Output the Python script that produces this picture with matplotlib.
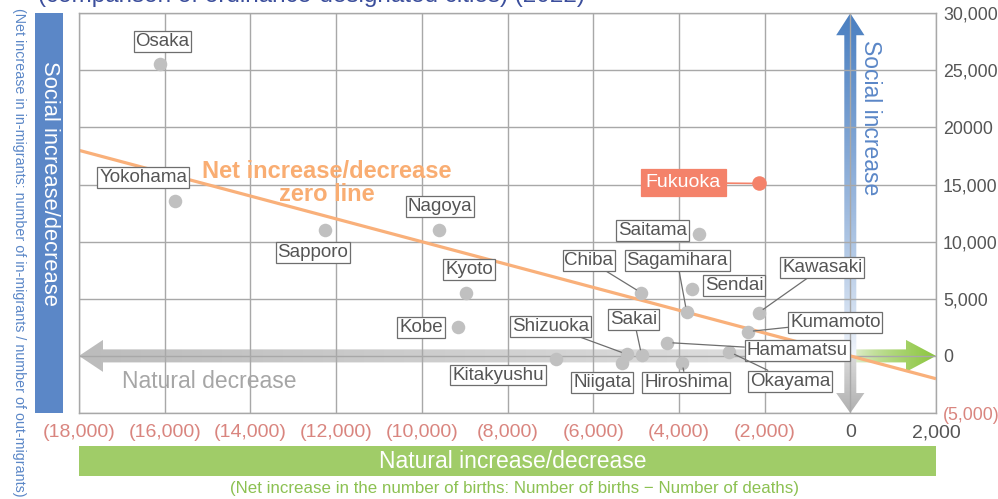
import numpy as np
import matplotlib
matplotlib.use("Agg")
import matplotlib.pyplot as plt
from matplotlib.patches import Polygon, Rectangle
from matplotlib.colors import to_rgba

plt.rcParams['font.family'] = ['Liberation Sans', 'DejaVu Sans']

# ---------------- data ----------------
cities = ["Osaka", "Yokohama", "Sapporo", "Nagoya", "Kyoto", "Kobe", "Kitakyushu",
          "Shizuoka", "Sakai", "Chiba", "Sagamihara", "Saitama", "Sendai", "Kawasaki",
          "Kumamoto", "Hamamatsu", "Okayama", "Hiroshima", "Niigata"]
natural = [-16100, -15750, -12250, -9600, -8970, -9150, -6870,
           -5220, -4870, -4880, -3820, -3520, -3700, -2140,
           -2390, -4270, -2820, -3930, -5320]
social = [25600, 13600, 11050, 11050, 5530, 2560, -230,
          150, 60, 5530, 3870, 10680, 5880, 3790,
          2130, 1170, 350, -580, -580]
fukuoka_name = "Fukuoka"
fukuoka_natural = -2140
fukuoka_social = 15100

xticks = [-18000, -16000, -14000, -12000, -10000, -8000, -6000, -4000, -2000, 0, 2000]
xticklabels = ["(18,000)", "(16,000)", "(14,000)", "(12,000)", "(10,000)", "(8,000)",
               "(6,000)", "(4,000)", "(2,000)", "0", "2,000"]
yticks = [-5000, 0, 5000, 10000, 15000, 20000, 25000, 30000]
yticklabels = ["(5,000)", "0", "5,000", "10,000", "15,000", "20000", "25,000", "30,000"]

# label layout (box centre positions in data units, and whether a leader line is drawn)
label_pos = {
    "Osaka": (-16050, 27530, False), "Yokohama": (-16500, 15600, False),
    "Sapporo": (-12540, 9050, False), "Nagoya": (-9580, 13060, False),
    "Kyoto": (-8900, 7570, False), "Kobe": (-10020, 2500, False),
    "Kitakyushu": (-8220, -1680, False), "Shizuoka": (-6990, 2590, True),
    "Sakai": (-5050, 3200, True), "Chiba": (-6100, 8350, True),
    "Sagamihara": (-4040, 8350, True), "Saitama": (-4620, 10970, False),
    "Sendai": (-2710, 6170, False), "Kawasaki": (-650, 7740, True),
    "Kumamoto": (-350, 2940, True), "Hamamatsu": (-1240, 500, True),
    "Okayama": (-1400, -2210, True), "Hiroshima": (-3830, -2300, True),
    "Niigata": (-5790, -2300, False),
}
fukuoka_label = (-3900, 15160)

W, H = 998, 499
fig = plt.figure(figsize=(W / 100, H / 100), dpi=100)
ax = fig.add_axes([79 / W, (H - 413) / H, (936 - 79) / W, (413 - 13.3) / H])

XMIN, XMAX, YMIN, YMAX = -18000, 2000, -5000, 30000


def grad_arrow(x0, y0, x1, y1, shaft_hw, head_hw, head_len, c0, c1, gamma=1.0):
    horizontal = (y0 == y1)
    if horizontal:
        d = np.sign(x1 - x0)
        hx = x1 - d * head_len
        pts = [(x0, y0 - shaft_hw), (hx, y0 - shaft_hw), (hx, y0 - head_hw), (x1, y0),
               (hx, y0 + head_hw), (hx, y0 + shaft_hw), (x0, y0 + shaft_hw)]
    else:
        d = np.sign(y1 - y0)
        hy = y1 - d * head_len
        pts = [(x0 - shaft_hw, y0), (x0 - shaft_hw, hy), (x0 - head_hw, hy), (x0, y1),
               (x0 + head_hw, hy), (x0 + shaft_hw, hy), (x0 + shaft_hw, y0)]
    pts = np.array(pts)
    patch = Polygon(pts, closed=True, fc='none', ec='none')
    ax.add_patch(patch)
    xmin, xmax = pts[:, 0].min(), pts[:, 0].max()
    ymin, ymax = pts[:, 1].min(), pts[:, 1].max()
    ca, cb = np.array(to_rgba(c0)), np.array(to_rgba(c1))
    n = 256
    if horizontal:
        xs = np.linspace(xmin, xmax, n)
        f = np.clip((xs - x0) / (x1 - x0), 0, 1) ** gamma
        cols = ca[None, :] + f[:, None] * (cb - ca)[None, :]
        img = np.repeat(cols[None, :, :], 2, axis=0)
    else:
        ys = np.linspace(ymin, ymax, n)
        f = np.clip((ys - y0) / (y1 - y0), 0, 1) ** gamma
        cols = ca[None, :] + f[:, None] * (cb - ca)[None, :]
        img = np.repeat(cols[:, None, :], 2, axis=1)
    im = ax.imshow(img, extent=[xmin, xmax, ymin, ymax], origin='lower', aspect='auto',
                   interpolation='bilinear', zorder=0.3)
    im.set_clip_path(patch)


# arrows
grad_arrow(0, 0, -18000, 0, 570, 1400, 560, '#e2e2e2', '#bcbcbc')
grad_arrow(0, 0, 2000, 0, 570, 1400, 700, '#f3f7ee', '#8cc63f', gamma=0.6)
grad_arrow(0, 0, 0, 30000, 140, 330, 1920, '#f4f7fc', '#4a7fc1', gamma=0.8)
grad_arrow(0, 0, 0, -5000, 140, 330, 1750, '#dadada', '#b0b0b0')

# grid / frame
ax.set_xlim(XMIN, XMAX)
ax.set_ylim(YMIN, YMAX)
ax.set_xticks(xticks)
ax.set_yticks(yticks)
ax.set_axisbelow(True)
ax.grid(True, color='#a8a8a8', lw=1.0, zorder=0.5)
for s in ax.spines.values():
    s.set_color('#a8a8a8')
    s.set_linewidth(1.0)
ax.tick_params(length=0)
ax.yaxis.tick_right()
ax.set_xticklabels(xticklabels, fontsize=14)
ax.set_yticklabels(yticklabels, fontsize=12.8)
ax.tick_params(axis='x', pad=8)
ax.tick_params(axis='y', pad=5)
neg_col, pos_col = '#d9857f', '#555555'
for lab, v in zip(ax.get_xticklabels(), xticks):
    lab.set_color(neg_col if v < 0 else pos_col)
for lab, v in zip(ax.get_yticklabels(), yticks):
    lab.set_color(neg_col if v < 0 else pos_col)

# zero line (natural + social = 0)
zx = np.array([XMIN, XMAX])
ax.plot(zx, -zx, color='#f9b07a', lw=2.3, zorder=2, solid_capstyle='butt')

# points
ax.scatter(natural, social, s=95, color='#c0c0c0', zorder=3, linewidths=0)
ax.scatter([fukuoka_natural], [fukuoka_social], s=110, color='#f4826a', zorder=3, linewidths=0)

for name, x, y in zip(cities, natural, social):
    lx, ly, line = label_pos[name]
    kw = dict(xy=(x, y), xytext=(lx, ly), textcoords='data', ha='center', va='center',
              fontsize=13.5, color='#555555', zorder=4,
              bbox=dict(boxstyle='square,pad=0.1', fc='white', ec='#6e6e6e', lw=0.9))
    if line:
        kw['arrowprops'] = dict(arrowstyle='-', color='#6e6e6e', lw=0.9, shrinkA=0, shrinkB=4)
    ax.annotate(name, **kw)

ax.annotate(fukuoka_name, xy=(fukuoka_natural, fukuoka_social), xytext=fukuoka_label,
            textcoords='data', ha='center', va='center', fontsize=14, color='white', zorder=4,
            bbox=dict(boxstyle='square,pad=0.25', fc='#f4826a', ec='#f4826a', lw=0.9),
            arrowprops=dict(arrowstyle='-', color='#f4826a', lw=1.2, shrinkA=0, shrinkB=4))

# in-plot texts
ax.text(470, 20830, "Social increase", rotation=270, ha='center', va='center',
        fontsize=16.5, color='#5b87c7', zorder=4)
ax.text(-14950, -2210, "Natural decrease", ha='center', va='center',
        fontsize=16.5, color='#a6a6a6', zorder=4)
ax.text(-12220, 15160, "Net increase/decrease\nzero line", ha='center', va='center',
        fontsize=17, color='#f9ad72', zorder=4, linespacing=1.0, fontweight='bold')

# side / bottom boxes
fig.patches.append(Rectangle((35 / W, (H - 413) / H), 28 / W, (413 - 13.3) / H,
                             transform=fig.transFigure, fc='#5b87c7', ec='none'))
fig.text(49 / W, (H - 183) / H, "Social increase/decrease", rotation=270,
         ha='center', va='center', fontsize=15.8, color='white')
fig.text(19 / W, (H - 252) / H,
         "(Net increase in in-migrants: number of in-migrants / number of out-migrants)",
         rotation=270, ha='center', va='center', fontsize=10.3, color='#5b87c7')

fig.patches.append(Rectangle((79 / W, (H - 476) / H), (936 - 79) / W, 30 / H,
                             transform=fig.transFigure, fc='#a0cc68', ec='none'))
fig.text(513 / W, (H - 461) / H, "Natural increase/decrease", ha='center', va='center',
         fontsize=16.5, color='white')
fig.text(515 / W, (H - 489) / H,
         "(Net increase in the number of births: Number of births \u2212 Number of deaths)",
         ha='center', va='center', fontsize=12.2, color='#8cc152')

# cut-off title
fig.text(38 / W, 1 - 2 / H, "(comparison of ordinance-designated cities) (2022)",
         ha='left', va='baseline', fontsize=17.5, color='#3b4e9c')

fig.savefig("out.png", dpi=100)
